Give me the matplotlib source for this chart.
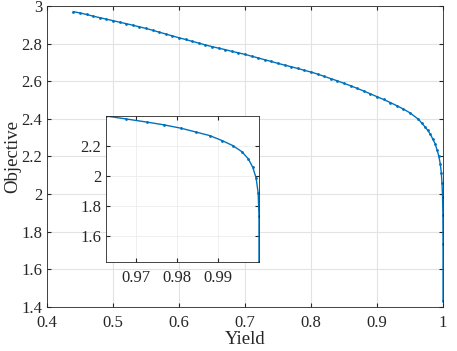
import numpy as np
import matplotlib
matplotlib.use("Agg")
import matplotlib.pyplot as plt
from matplotlib.ticker import FormatStrFormatter

# values
yield_main = [0.44, 0.45, 0.46, 0.47, 0.48, 0.49, 0.50, 0.51, 0.52, 0.53, 0.54,
              0.55, 0.56, 0.57, 0.58, 0.59, 0.60, 0.61, 0.62, 0.63, 0.64, 0.65,
              0.66, 0.67, 0.68, 0.69, 0.70, 0.71, 0.72, 0.73, 0.74, 0.75, 0.76,
              0.77, 0.78, 0.79, 0.80, 0.81, 0.82, 0.83, 0.84, 0.85, 0.86, 0.87,
              0.88, 0.89, 0.90, 0.91, 0.92, 0.93, 0.94, 0.95]
obj_main = [2.970, 2.963, 2.955, 2.946, 2.938, 2.930, 2.922, 2.914, 2.906, 2.898, 2.889,
            2.881, 2.871, 2.861, 2.851, 2.841, 2.831, 2.822, 2.812, 2.803, 2.793, 2.784,
            2.776, 2.768, 2.759, 2.751, 2.743, 2.733, 2.724, 2.714, 2.705, 2.695, 2.686,
            2.677, 2.668, 2.658, 2.649, 2.638, 2.626, 2.614, 2.602, 2.589, 2.576, 2.562,
            2.548, 2.533, 2.518, 2.503, 2.487, 2.470, 2.452, 2.432]

# tail of the front (the part shown in the inset)
yield_tail = [0.9627, 0.9677, 0.9726, 0.9769, 0.9810, 0.9846, 0.9880, 0.9910,
              0.9936, 0.9958, 0.9974, 0.9985, 0.9993, 0.9998, 1.0000, 1.0000]
obj_tail = [2.398, 2.378, 2.358, 2.339, 2.317, 2.292, 2.268, 2.235,
            2.202, 2.162, 2.114, 2.057, 1.987, 1.888, 1.733, 1.430]

x_all = yield_main + yield_tail
y_all = obj_main + obj_tail

blue = '#0072BD'
plt.rcParams['font.family'] = ['Liberation Serif', 'DejaVu Serif']
plt.rcParams['font.size'] = 12

fig = plt.figure(figsize=(4.57, 3.51), dpi=100)

ax = fig.add_axes([0.1028, 0.1254, 0.8666, 0.8575])
ax.plot(x_all, y_all, '.-', color=blue, lw=1.0, ms=2)
ax.set_xlim(0.4, 1.0)
ax.set_ylim(1.4, 3.0)
ax.set_xticks(np.arange(0.4, 1.01, 0.1))
ax.set_yticks(np.arange(1.4, 3.01, 0.2))
ax.xaxis.set_major_formatter(FormatStrFormatter('%g'))
ax.yaxis.set_major_formatter(FormatStrFormatter('%g'))
ax.grid(True, color='#e3e3e3', lw=0.8)
ax.set_axisbelow(True)
ax.tick_params(direction='in', top=True, right=True, length=3, colors='#262626',
               labelcolor='#262626')
ax.tick_params(axis='x', pad=5.5)
ax.tick_params(axis='y', pad=3.5)
for s in ax.spines.values():
    s.set_color('#262626')
    s.set_linewidth(0.6)
ax.set_xlabel('Yield', labelpad=0, color='#262626', fontsize=13.5)
ax.set_ylabel('Objective', labelpad=0, color='#262626', fontsize=13.5)

# inset zoom on the steep part
axin = fig.add_axes([0.2319, 0.2536, 0.3348, 0.4159])
axin.plot(yield_tail, obj_tail, '.-', color=blue, lw=1.0, ms=2)
axin.set_xlim(min(yield_tail), max(yield_tail))
axin.set_ylim(min(obj_tail), max(obj_tail))
axin.set_xticks([0.97, 0.98, 0.99])
axin.set_yticks([1.6, 1.8, 2.0, 2.2])
axin.xaxis.set_major_formatter(FormatStrFormatter('%g'))
axin.yaxis.set_major_formatter(FormatStrFormatter('%g'))
axin.grid(True, color='#ececec', lw=0.6)
axin.set_axisbelow(True)
axin.tick_params(direction='in', top=True, right=True, length=3, colors='#262626',
                 labelcolor='#262626')
axin.tick_params(axis='x', pad=5.5)
axin.tick_params(axis='y', pad=3.5)
for s in axin.spines.values():
    s.set_color('#262626')
    s.set_linewidth(0.6)

fig.savefig('out.png', dpi=100)
